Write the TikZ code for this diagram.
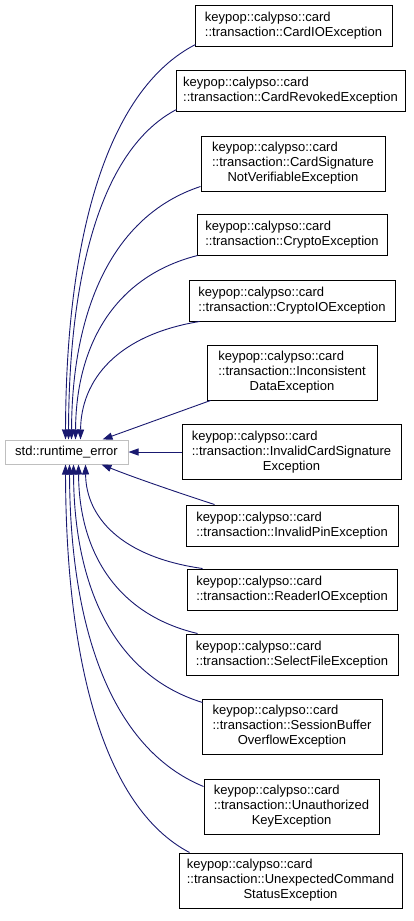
\documentclass[tikz,border=0pt]{standalone}
\usepackage{fontspec}
\setmainfont{Liberation Sans}
\usetikzlibrary{arrows.meta}
\definecolor{edgeblue}{HTML}{191970}
\definecolor{basegray}{HTML}{BFBFBF}
\newcommand{\lbl}[2]{{\fontsize{13}{15}\selectfont\begin{tabular}{@{}l@{}}#1\\#2\end{tabular}}}
\newcommand{\lblc}[3]{{\fontsize{13}{15}\selectfont\begin{tabular}{@{}l@{}}#1\\#2\\\multicolumn{1}{@{}c@{}}{#3}\end{tabular}}}
\tikzset{
  cls/.style={draw=black, line width=1pt, fill=white, inner sep=0pt, minimum height=41pt},
  cls3/.style={cls, minimum height=55pt},
  base/.style={draw=basegray, line width=1pt, fill=white, inner sep=0pt, minimum width=123pt, minimum height=24pt, font=\fontsize{13}{15}\selectfont},
  inh/.style={draw=edgeblue, line width=0.9pt, -{Triangle[length=10pt,width=7pt]}},
}
\begin{document}
\begin{tikzpicture}[x=1pt,y=-1pt]
\path[use as bounding box] (0,0) rectangle (413,921);
\node[base] (rt) at (66.5,452) {std::runtime\_error};
\node[cls, minimum width=197pt] (b1) at (293.5,25.5) {\lbl{keypop::calypso::card}{::transaction::CardIOException}};
\node[cls, minimum width=229pt] (b2) at (290.5,90.5) {\lbl{keypop::calypso::card}{::transaction::CardRevokedException}};
\node[cls3, minimum width=184pt] (b3) at (293,163.5) {\lblc{keypop::calypso::card}{::transaction::CardSignature}{NotVerifiableException}};
\node[cls, minimum width=190pt] (b4) at (292,234.5) {\lbl{keypop::calypso::card}{::transaction::CryptoException}};
\node[cls, minimum width=206pt] (b5) at (292,300.5) {\lbl{keypop::calypso::card}{::transaction::CryptoIOException}};
\node[cls3, minimum width=170pt] (b6) at (292,372.5) {\lblc{keypop::calypso::card}{::transaction::Inconsistent}{DataException}};
\node[cls3, minimum width=219pt] (b7) at (291.5,452) {\lblc{keypop::calypso::card}{::transaction::InvalidCardSignature}{Exception}};
\node[cls, minimum width=212pt] (b8) at (292,525.5) {\lbl{keypop::calypso::card}{::transaction::InvalidPinException}};
\node[cls, minimum width=210pt] (b9) at (292,589.5) {\lbl{keypop::calypso::card}{::transaction::ReaderIOException}};
\node[cls, minimum width=212pt] (b10) at (292,654.5) {\lbl{keypop::calypso::card}{::transaction::SelectFileException}};
\node[cls3, minimum width=180pt] (b11) at (292,726.5) {\lblc{keypop::calypso::card}{::transaction::SessionBuffer}{OverflowException}};
\node[cls3, minimum width=175pt] (b12) at (291.5,806.5) {\lblc{keypop::calypso::card}{::transaction::Unauthorized}{KeyException}};
\node[cls3, minimum width=223pt] (b13) at (290.5,880.5) {\lblc{keypop::calypso::card}{::transaction::UnexpectedCommand}{StatusException}};
% edges above
\draw[inh] ([shift={(1,-2)}]b1.south west) .. controls (105,91) and (66,242) .. ([xshift=61pt]rt.north west);
\draw[inh] ([shift={(1,-2)}]b2.south west) .. controls (101,149) and (69,274) .. ([xshift=64pt]rt.north west);
\draw[inh] ([shift={(0,-5)}]b3.south west) .. controls (111,216) and (72,312) .. ([xshift=67pt]rt.north west);
\draw[inh] ([shift={(1,0)}]b4.south west) .. controls (113,277) and (76,347) .. ([xshift=71pt]rt.north west);
\draw[inh] ([shift={(11,0)}]b5.south west) .. controls (117,335) and (81,380) .. ([xshift=76pt]rt.north west);
\draw[inh] ([shift={(4,0)}]b6.south west) -- ([xshift=98pt]rt.north west);
\draw[inh] (b7.west) -- (rt.east);
% edges below
\draw[inh] ([shift={(29,0)}]b8.north west) .. controls (170,490) and (130,476) .. ([xshift=97pt]rt.south west);
\draw[inh] ([shift={(16,0)}]b9.north west) .. controls (121,557) and (86,517) .. ([xshift=81pt]rt.south west);
\draw[inh] ([shift={(12,0)}]b10.north west) .. controls (115,614) and (79,550) .. ([xshift=74pt]rt.south west);
\draw[inh] ([shift={(1,4)}]b11.north west) .. controls (113,675) and (74,585) .. ([xshift=69pt]rt.south west);
\draw[inh] ([shift={(0,8)}]b12.north west) .. controls (110,748) and (70,626) .. ([xshift=65pt]rt.south west);
\draw[inh] ([shift={(11,0)}]b13.north west) .. controls (103,807) and (66,660) .. ([xshift=61pt]rt.south west);
\end{tikzpicture}
\end{document}
